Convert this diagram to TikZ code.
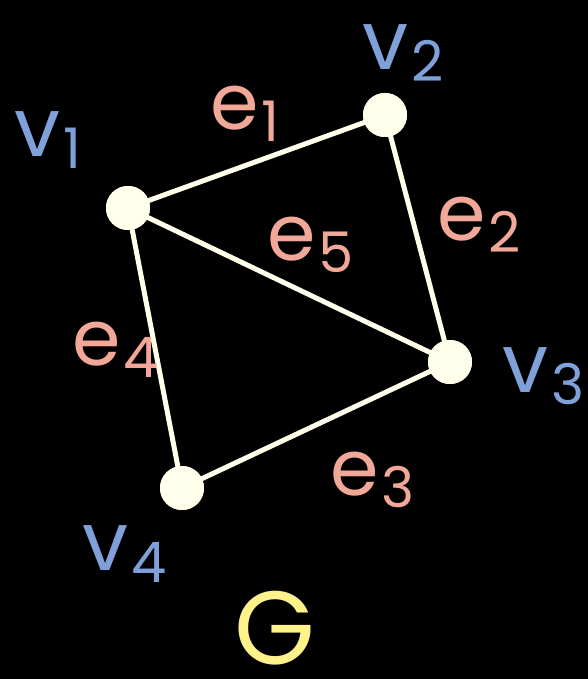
\documentclass[tikz,border=0pt]{standalone}
\usepackage{fontspec}
\setmainfont{Poppins}
\definecolor{bg}{HTML}{000000}
\definecolor{cream}{HTML}{FFFFEB}
\definecolor{vblue}{HTML}{7FA0D8}
\definecolor{esal}{HTML}{F2A898}
\definecolor{gyel}{HTML}{FFF28A}
\newcommand{\lab}[2]{#1\hspace{3pt}\raisebox{-12pt}{\fontsize{56}{56}\selectfont #2}}
\begin{document}
\begin{tikzpicture}[x=1pt,y=-1pt,
  vert/.style={circle,fill=cream,minimum size=44pt,inner sep=0pt},
  edge/.style={draw=cream,line width=5pt,line cap=round},
  vlab/.style={text=vblue,font=\fontsize{82}{82}\selectfont,inner sep=0pt,anchor=base west},
  elab/.style={text=esal,font=\fontsize{78}{78}\selectfont,inner sep=0pt,anchor=base west}]
\fill[bg] (0,0) rectangle (588,679);
\useasboundingbox (0,0) rectangle (588,679);
\node[vert] (v1) at (128,208) {};
\node[vert] (v2) at (385,115) {};
\node[vert] (v3) at (450,362) {};
\node[vert] (v4) at (182,488) {};
\draw[edge] (v1) -- (v2);
\draw[edge] (v2) -- (v3);
\draw[edge] (v3) -- (v4);
\draw[edge] (v4) -- (v1);
\draw[edge] (v1) -- (v3);
\node[vert] at (v1) {};
\node[vert] at (v2) {};
\node[vert] at (v3) {};
\node[vert] at (v4) {};
\node[vlab] (l1) at (14,157) {\lab{v}{1}};
\node[vlab] (l2) at (362,70) {\lab{v}{2}};
\node[vlab] (l3) at (502,392) {\lab{v}{3}};
\node[vlab] (l4) at (82,570) {\lab{v}{4}};
\node[elab] (le1) at (210,130) {\lab{e}{1}};
\node[elab] (le2) at (437,240) {\lab{e}{2}};
\node[elab] (le5) at (267,260) {\lab{e}{5}};
\node[elab] (le4) at (72,365) {\lab{e}{4}};
\node[elab] (le3) at (330,495) {\lab{e}{3}};
\node[text=gyel,font=\fontsize{104}{104}\selectfont,inner sep=0pt,anchor=base west] (g) at (234,664) {G};
\end{tikzpicture}
\end{document}
